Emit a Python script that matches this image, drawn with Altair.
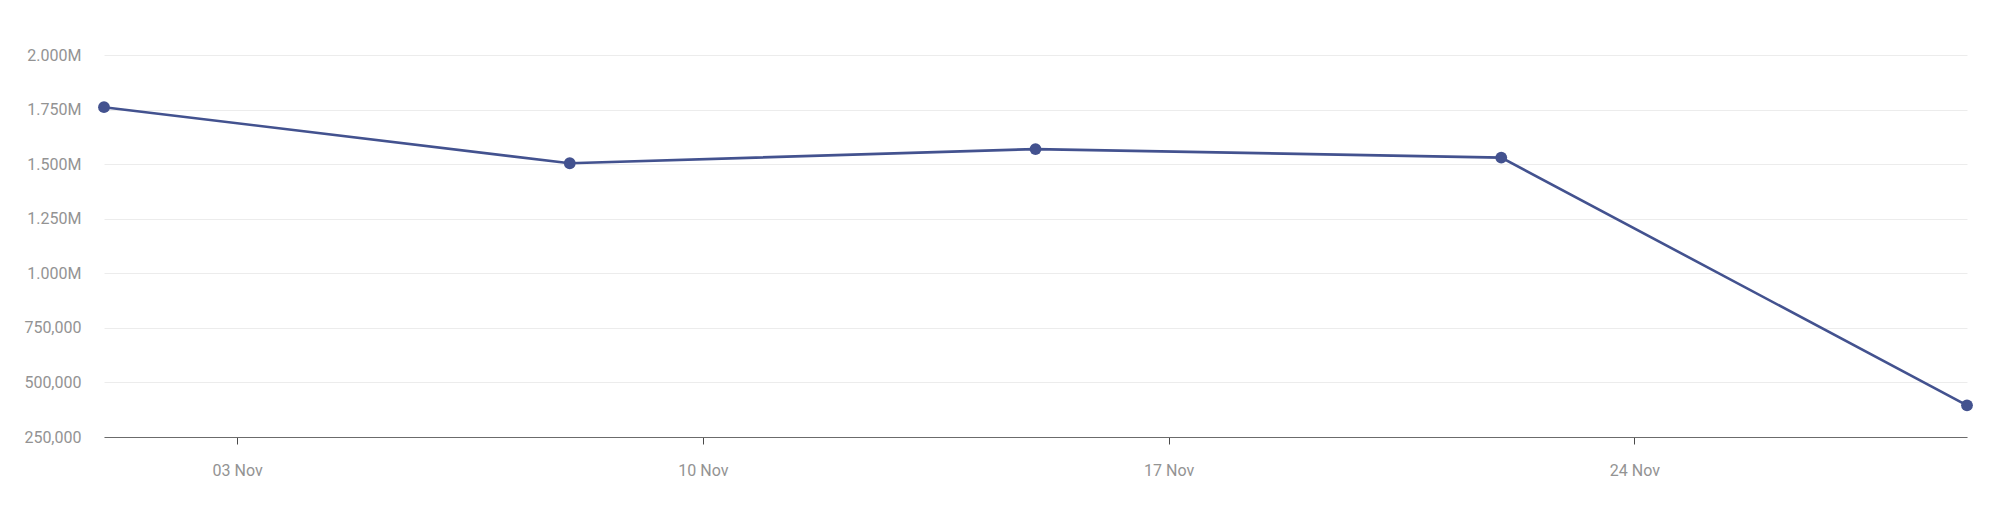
import altair as alt
import pandas as pd

dates = ["2023-11-01", "2023-11-08", "2023-11-15", "2023-11-22", "2023-11-29"]
values = [1761000, 1504000, 1569000, 1530000, 395000]
y_ticks = [250000, 500000, 750000, 1000000, 1250000, 1500000, 1750000, 2000000]
x_tick_days = [3, 10, 17, 24]

df = pd.DataFrame({"date": dates, "value": values})

LINE = "#43528f"
LABEL = "#939393"

x_enc = alt.X(
    "date:T",
    scale=alt.Scale(type="utc", domain=[alt.DateTime(year=2023, month=11, date=1, utc=True),
                                        alt.DateTime(year=2023, month=11, date=29, utc=True)]),
    axis=alt.Axis(
        title=None,
        values=[alt.DateTime(year=2023, month=11, date=d, utc=True) for d in x_tick_days],
        labelExpr="utcFormat(datum.value, '%d %b')",
        grid=False,
        domainColor="#6b6b6b",
        domainWidth=1,
        tickColor="#4a4a4a",
        tickSize=7,
        labelPadding=26,
        labelBaseline="middle",
        labelColor=LABEL,
        labelFont="Roboto",
        labelFontSize=16,
    ),
)
y_enc = alt.Y(
    "value:Q",
    scale=alt.Scale(domain=[250000, 2000000], nice=False, zero=False),
    axis=alt.Axis(
        title=None,
        values=y_ticks,
        labelExpr="datum.value >= 1000000 ? format(datum.value / 1000000, '.3f') + 'M' : format(datum.value, ',')",
        domain=False,
        ticks=False,
        gridColor="#ececec",
        gridWidth=1,
        labelPadding=23,
        labelColor=LABEL,
        labelFont="Roboto",
        labelFontSize=16,
    ),
)

base = alt.Chart(df)
line = base.mark_line(color=LINE, strokeWidth=2.6).encode(x=x_enc, y=y_enc)
pts = base.mark_circle(color=LINE, size=140, opacity=1).encode(x=x_enc, y=y_enc)

chart = alt.layer(line, pts).properties(
    width=1863,
    height=382,
    autosize=alt.AutoSizeParams(type="none"),
    padding={"left": 96, "top": 47, "right": 10, "bottom": 58},
    background="white",
).configure_view(stroke=None)

chart.save("out.html", embed_options={"renderer": "svg", "actions": False})
